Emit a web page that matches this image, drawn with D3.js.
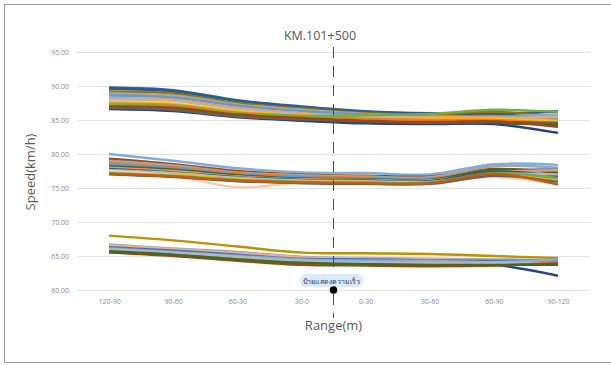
<!DOCTYPE html>
<html>
<head>
<meta charset="utf-8">
<script src="https://cdn.jsdelivr.net/npm/d3@7"></script>
<style>
  body { margin: 0; background: #fff; }
  text { font-family: "Open Sans", Lato, "Noto Sans", sans-serif; }
</style>
</head>
<body>
<script>
// categories along x
const CATEGORIES = ["120-90", "90-60", "60-30", "30-0", "0-30", "30-60", "60-90", "90-120"];
const Y_TICKS = [60, 65, 70, 75, 80, 85, 90, 95];

// upper group (~86-90 km/h)
const UPPER = [
  [89.8, 89.4, 87.9, 87.0, 86.3, 86.0, 86.0, 86.2],
  [89.6, 89.2, 87.8, 86.9, 86.2, 85.9, 85.8, 86.3],
  [89.2, 88.9, 87.5, 86.7, 86.0, 85.8, 86.2, 85.5],
  [88.9, 88.6, 87.3, 86.5, 85.9, 85.6, 85.5, 85.8],
  [88.6, 88.3, 87.1, 86.3, 85.8, 85.5, 85.6, 85.2],
  [88.2, 88.0, 86.8, 86.0, 85.6, 85.4, 85.4, 85.0],
  [88.0, 87.8, 86.6, 85.9, 85.5, 85.3, 85.3, 85.5],
  [87.6, 87.4, 86.3, 85.7, 85.3, 85.1, 85.2, 84.8],
  [87.4, 87.2, 86.1, 85.6, 85.2, 85.0, 85.0, 84.5],
  [87.2, 87.0, 86.0, 85.6, 85.7, 85.9, 86.5, 86.2],
  [86.9, 86.6, 85.6, 85.0, 84.6, 84.5, 84.5, 84.3],
  [86.6, 86.3, 85.4, 84.9, 84.5, 84.4, 84.4, 83.1],
  [86.8, 86.5, 85.5, 85.1, 84.8, 84.6, 84.7, 84.6],
  [87.0, 86.8, 85.8, 85.3, 84.9, 84.7, 84.8, 84.0]
];

// middle group (~76-80 km/h)
const MIDDLE = [
  [80.0, 79.0, 77.9, 77.3, 77.2, 77.0, 78.5, 78.4],
  [79.3, 78.5, 77.5, 77.0, 76.8, 76.7, 77.8, 77.2],
  [79.0, 78.3, 77.3, 76.9, 76.7, 76.6, 78.2, 78.0],
  [78.7, 78.1, 77.2, 76.7, 76.5, 76.4, 77.6, 76.5],
  [78.5, 77.9, 77.0, 76.6, 76.4, 76.3, 77.5, 77.8],
  [78.2, 77.7, 76.9, 76.4, 76.3, 76.2, 77.7, 77.3],
  [78.0, 77.5, 76.7, 76.3, 76.2, 76.1, 77.3, 77.6],
  [77.8, 77.3, 76.6, 76.2, 76.1, 76.0, 77.4, 76.8],
  [77.6, 77.2, 76.5, 76.1, 76.0, 75.9, 77.0, 77.0],
  [77.3, 77.0, 76.3, 75.9, 75.9, 75.8, 76.9, 76.2],
  [77.5, 76.8, 75.1, 75.8, 75.7, 75.7, 76.6, 75.6],
  [77.2, 76.8, 76.2, 75.9, 75.8, 75.8, 77.2, 76.4],
  [77.0, 76.6, 76.0, 75.7, 75.6, 75.6, 76.8, 75.9],
  [77.1, 76.7, 76.1, 75.8, 75.7, 75.7, 77.1, 75.5]
];

// lower group (~64-68 km/h)
const LOWER = [
  [68.0, 67.3, 66.4, 65.5, 65.4, 65.3, 65.0, 64.7],
  [66.7, 66.1, 65.6, 64.9, 64.7, 64.6, 64.5, 64.4],
  [66.5, 66.0, 65.4, 64.8, 64.6, 64.5, 64.4, 64.2],
  [66.3, 65.8, 65.2, 64.6, 64.5, 64.4, 64.3, 64.3],
  [66.1, 65.6, 65.0, 64.5, 64.3, 64.3, 64.1, 64.5],
  [65.9, 65.4, 64.8, 64.2, 64.0, 63.9, 63.7, 62.1],
  [65.8, 65.3, 64.7, 64.1, 63.9, 63.8, 63.8, 63.8],
  [66.0, 65.5, 64.9, 64.3, 64.1, 64.0, 64.0, 64.0],
  [65.6, 65.1, 64.4, 63.8, 63.7, 63.6, 63.6, 64.1],
  [65.5, 65.0, 64.3, 63.7, 63.6, 63.5, 63.6, 63.9],
  [65.7, 65.2, 64.5, 64.0, 63.8, 63.7, 63.7, 63.7]
];

const UPPER_COLORS = ["#2e5fa8", "#255E91", "#997300", "#A5A5A5", "#5B9BD5", "#F1975A", "#B7B7B7",
  "#FFC000", "#ED7D31", "#70AD47", "#43682B", "#264478", "#636363", "#9E480E"];
const MIDDLE_COLORS = ["#7CAFDD", "#9E480E", "#A5A5A5", "#ED7D31", "#5B9BD5", "#43682B", "#F1975A",
  "#255E91", "#B7B7B7", "#FFC000", "#F8CBAD", "#70AD47", "#636363", "#C55A11"];
const LOWER_COLORS = ["#BF9000", "#A5A5A5", "#F4B183", "#4472C4", "#7CAFDD", "#264478", "#70AD47",
  "#B7B7B7", "#ED7D31", "#9E480E", "#43682B"];

const width = 611;
const height = 365;

const x = d3.scalePoint()
  .domain(CATEGORIES)
  .range([109, 558]);

const y = d3.scaleLinear()
  .domain([60, 95])
  .range([290, 52]);

const line = d3.line()
  .x(function (d, i) { return x(CATEGORIES[i]); })
  .y(function (d) { return y(d); })
  .curve(d3.curveCatmullRom.alpha(0.5));

let svg = d3.select("body").append("svg")
  .attr("width", width)
  .attr("height", height);

// frame
svg.append("rect")
  .attr("x", 4.5).attr("y", 4.5)
  .attr("width", 640).attr("height", 358)
  .attr("fill", "none")
  .attr("stroke", "#9a9a9a");

// gridlines
svg.append("g")
  .attr("transform", "translate(77,0)")
  .call(d3.axisLeft(y).tickValues(Y_TICKS).tickSize(-513).tickFormat(""))
  .call(g => g.select(".domain").remove())
  .call(g => g.selectAll("line").attr("stroke", "#e3e3e3"));

// y tick labels
svg.append("g")
  .attr("transform", "translate(72,0)")
  .call(d3.axisLeft(y).tickValues(Y_TICKS).tickSize(0).tickFormat(d3.format(".2f")))
  .call(g => g.select(".domain").remove())
  .call(g => g.selectAll("text")
    .attr("fill", "#8a8a8a")
    .style("font-size", "7px"));

// x tick labels
svg.append("g")
  .attr("transform", "translate(0,296)")
  .call(d3.axisBottom(x).tickSize(0))
  .call(g => g.select(".domain").remove())
  .call(g => g.selectAll("text")
    .attr("fill", "#8a8a8a")
    .style("font-size", "7px"));

// series lines
const groups = [[UPPER, UPPER_COLORS], [MIDDLE, MIDDLE_COLORS], [LOWER, LOWER_COLORS]];
groups.forEach(function (g) {
  svg.append("g").selectAll("path")
    .data(g[0])
    .enter()
      .append("path")
      .attr("d", line)
      .attr("fill", "none")
      .attr("stroke", function (d, i) { return g[1][i]; })
      .attr("stroke-width", 2.4);
});

// sign position: between 30-0 and 0-30
const signX = (x("30-0") + x("0-30")) / 2;

svg.append("line")
  .attr("x1", signX).attr("x2", signX)
  .attr("y1", 47).attr("y2", 318)
  .attr("stroke", "#4a4a4a")
  .attr("stroke-width", 1)
  .attr("stroke-dasharray", "11,8");

svg.append("rect")
  .attr("x", signX - 34).attr("y", 274)
  .attr("width", 64).attr("height", 13)
  .attr("rx", 6.5)
  .attr("fill", "#dce9f8");

svg.append("text")
  .attr("x", signX - 2).attr("y", 283.5)
  .attr("text-anchor", "middle")
  .attr("fill", "#1f3864")
  .style("font-size", "7px")
  .text("ป้ายแสดงความเร็ว");

svg.append("circle")
  .attr("cx", signX).attr("cy", y(60))
  .attr("r", 3.8)
  .attr("fill", "#000");

// titles
svg.append("text")
  .attr("x", 320).attr("y", 40)
  .attr("text-anchor", "middle")
  .attr("fill", "#595959")
  .style("font-size", "12.5px")
  .text("KM.101+500");

svg.append("text")
  .attr("transform", "translate(35,172) rotate(-90)")
  .attr("text-anchor", "middle")
  .attr("fill", "#595959")
  .style("font-size", "13px")
  .text("Speed(km/h)");

svg.append("text")
  .attr("x", signX).attr("y", 330)
  .attr("text-anchor", "middle")
  .attr("fill", "#595959")
  .style("font-size", "13px")
  .text("Range(m)");
</script>
</body>
</html>
